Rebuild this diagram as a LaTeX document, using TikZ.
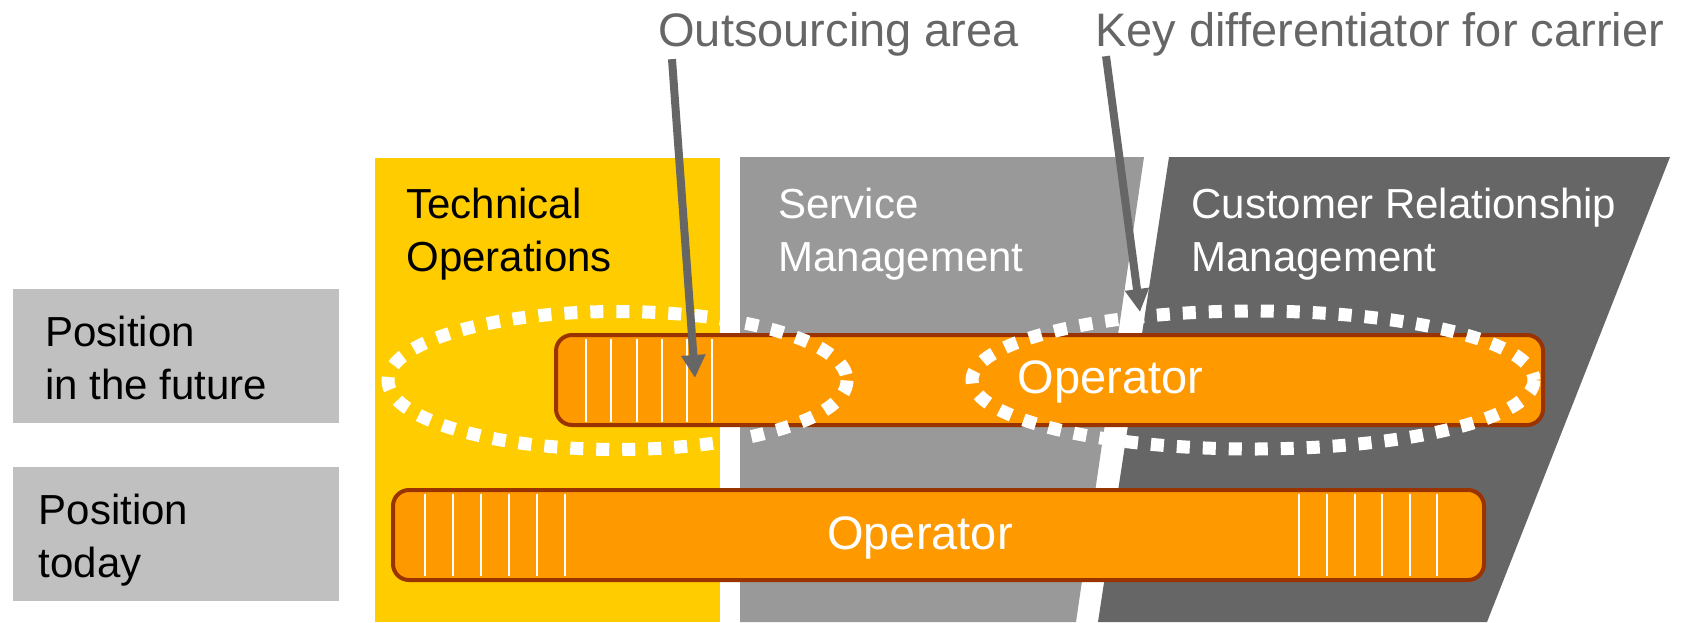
\documentclass[tikz,border=0pt]{standalone}
\usepackage{fontspec}
\setmainfont{Liberation Sans}
\usetikzlibrary{arrows.meta}
\definecolor{techyellow}{HTML}{FFCC00}
\definecolor{servgray}{HTML}{999999}
\definecolor{custgray}{HTML}{666666}
\definecolor{opfill}{HTML}{FF9900}
\definecolor{opline}{HTML}{993300}
\definecolor{posgray}{HTML}{C0C0C0}

\begin{document}
\begin{tikzpicture}[x=0.5pt,y=-0.5pt,
    lbl/.style={inner sep=0pt,align=left,anchor=north west,font=\fontsize{21}{26.5}\selectfont},
    toplbl/.style={inner sep=0pt,anchor=base west,text=custgray,font=\fontsize{23.5}{28}\selectfont},
    optext/.style={inner sep=0pt,anchor=base,text=white,font=\fontsize{23.5}{28}\selectfont},
    bar/.style={draw=opline,fill=opfill,line width=2pt,rounded corners=8pt,minimum height=45pt,inner sep=0pt},
    stripe/.style={draw=white,line width=1pt},
    oval/.style={draw=white,line width=6.5pt,dash pattern=on 6.5pt off 6.5pt},
    pointer/.style={draw=custgray,line width=4pt,-{Triangle[length=11.5pt,width=11.5pt]}}]
    \useasboundingbox (0,0) rectangle (1691,622);
    \fill[techyellow] (375,158) rectangle (720,622);
    \fill[servgray] (740,157) -- (1144,157) -- (1076,622) -- (740,622) -- cycle;
    \fill[custgray] (1169,157) -- (1670,157) -- (1487,622) -- (1098,622) -- cycle;
    \fill[posgray] (13,289) rectangle (339,423);
    \fill[posgray] (13,467) rectangle (339,601);
    \node[lbl] (future pos) at (45,316) {Position\\in the future};
    \node[lbl] (today pos) at (38.5,494) {Position\\today};
    \node[lbl] (tech) at (406,188) {Technical\\Operations};
    \node[lbl,text=white] (serv) at (778,188) {Service\\Management};
    \node[lbl,text=white] (cust) at (1191,188) {Customer Relationship\\Management};
    \node[bar,minimum width=493.5pt] (future) at (1049.5,380) {};
    \node[bar,minimum width=545.5pt] (today) at (938.5,535) {};
    \draw[stripe] (586,339) -- (586,422) (611,339) -- (611,422) (636.5,339) -- (636.5,422)
        (662,339) -- (662,422) (687,339) -- (687,422) (712,339) -- (712,422);
    \draw[stripe] (424.5,494) -- (424.5,576) (453,494) -- (453,576) (481,494) -- (481,576)
        (509,494) -- (509,576) (537,494) -- (537,576) (565,494) -- (565,576);
    \draw[stripe] (1299,494) -- (1299,576) (1327,494) -- (1327,576) (1354.5,494) -- (1354.5,576)
        (1382,494) -- (1382,576) (1410,494) -- (1410,576) (1437,494) -- (1437,576);
    \node[optext] (future op) at (1110.5,393) {Operator};
    \node[optext] (today op) at (920,549) {Operator};
    \draw[oval] (617.5,380.5) ellipse [x radius=229.5,y radius=69];
    \draw[oval] (1253,380) ellipse [x radius=281,y radius=69];
    \node[toplbl] (area) at (658,46) {Outsourcing area};
    \node[toplbl] (keydiff) at (1095,46) {Key differentiator for carrier};
    \coordinate (area tip) at (695,378);
    \coordinate (keydiff tip) at (1140,312);
    \draw[pointer] ([xshift=7pt,yshift=-1.5pt]area.south west) -- (area tip);
    \draw[pointer] ([xshift=5.5pt]keydiff.south west) -- (keydiff tip);
\end{tikzpicture}
\end{document}
